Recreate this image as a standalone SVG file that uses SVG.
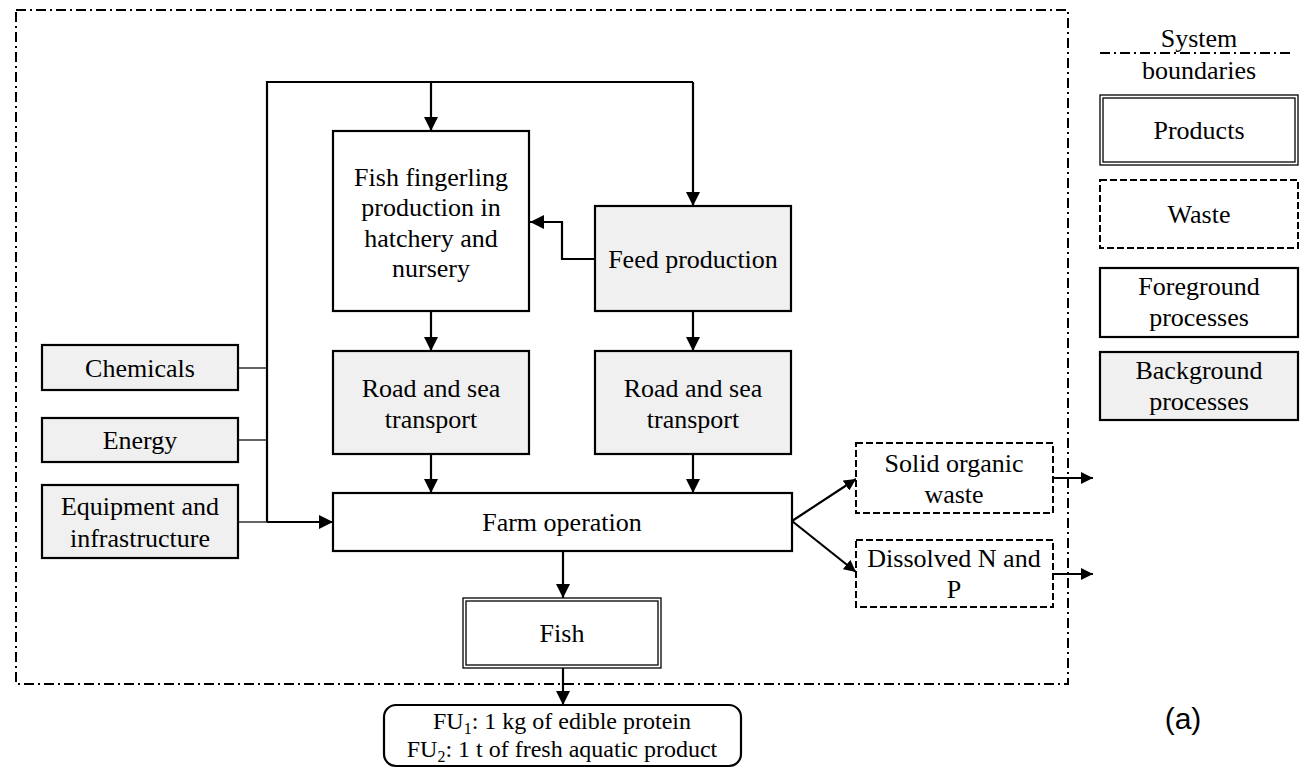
<svg xmlns="http://www.w3.org/2000/svg" width="1304" height="784" viewBox="0 0 1304 784">
<defs>
<marker id="ah" viewBox="0 0 14 14" markerWidth="14" markerHeight="14" refX="14" refY="7" orient="auto" markerUnits="userSpaceOnUse">
<path d="M0,0 L14,7 L0,14 z" fill="#000"/>
</marker>
<marker id="ahs" viewBox="0 0 12 12" markerWidth="12" markerHeight="12" refX="12" refY="6" orient="auto" markerUnits="userSpaceOnUse">
<path d="M0,0 L12,6 L0,12 z" fill="#000"/>
</marker>
</defs>
<style>
text{font-family:"Liberation Serif","Times New Roman",serif;font-size:26px;fill:#000;text-anchor:middle}
.fg{fill:#fff;stroke:#000;stroke-width:2.2}
.bg{fill:#f0f0f0;stroke:#000;stroke-width:2.2}
.ws{fill:#fff;stroke:#000;stroke-width:2;stroke-dasharray:7,3}
.dbl{fill:none;stroke:#000;stroke-width:1.3}
.bd{fill:none;stroke:#000;stroke-width:2;stroke-dasharray:10,4,2,4}
.c{fill:none;stroke:#000;stroke-width:2.2}
.t{fill:none;stroke:#333;stroke-width:1.3}
</style>
<rect width="1304" height="784" fill="#fff"/>
<rect id="boundary" class="bd" x="16" y="10" width="1052" height="674"/>

<g id="connectors">
<path class="t" d="M238,368 H267 M238,440 H267 M238,522 H267"/>
<path class="c" d="M267,522 V82 H693"/>
<path class="c" d="M267,522 H333" marker-end="url(#ah)"/>
<path class="c" d="M431,82 V131" marker-end="url(#ah)"/>
<path class="c" d="M693,82 V206" marker-end="url(#ah)"/>
<path class="c" d="M595,259 H562 V222 H530" marker-end="url(#ah)"/>
<path class="c" d="M431,311 V351" marker-end="url(#ah)"/>
<path class="c" d="M693,311 V351" marker-end="url(#ah)"/>
<path class="c" d="M431,454 V493" marker-end="url(#ah)"/>
<path class="c" d="M693,454 V493" marker-end="url(#ah)"/>
<path class="c" d="M563,551 V598" marker-end="url(#ah)"/>
<path class="c" d="M792,521 L856,479" marker-end="url(#ahs)"/>
<path class="c" d="M792,521 L856,572" marker-end="url(#ahs)"/>
<path class="c" d="M1053,478 H1093" marker-end="url(#ahs)"/>
<path class="c" d="M1053,574 H1093" marker-end="url(#ahs)"/>
<path class="c" d="M563,668 V705" marker-end="url(#ah)"/>
</g>

<g id="fingerling">
<rect class="fg" x="333" y="131" width="196" height="180"/>
<text x="431" y="186">Fish fingerling</text>
<text x="431" y="216">production in</text>
<text x="431" y="247">hatchery and</text>
<text x="431" y="277">nursery</text>
</g>
<g id="feed">
<rect class="bg" x="595" y="206" width="196" height="105"/>
<text x="693" y="268">Feed production</text>
</g>
<g id="transport1">
<rect class="bg" x="333" y="351" width="196" height="103"/>
<text x="431" y="397">Road and sea</text>
<text x="431" y="428">transport</text>
</g>
<g id="transport2">
<rect class="bg" x="595" y="351" width="196" height="103"/>
<text x="693" y="397">Road and sea</text>
<text x="693" y="428">transport</text>
</g>
<g id="chemicals">
<rect class="bg" x="42" y="345" width="196" height="45"/>
<text x="140" y="377">Chemicals</text>
</g>
<g id="energy">
<rect class="bg" x="42" y="418" width="196" height="44"/>
<text x="140" y="449">Energy</text>
</g>
<g id="equipment">
<rect class="bg" x="42" y="485" width="196" height="73"/>
<text x="140" y="515">Equipment and</text>
<text x="140" y="547">infrastructure</text>
</g>
<g id="farm">
<rect class="fg" x="333" y="493" width="459" height="58"/>
<text x="562" y="531">Farm operation</text>
</g>
<g id="fish">
<rect class="dbl" x="463" y="598" width="198" height="70"/>
<rect class="dbl" x="466" y="601" width="192" height="64"/>
<text x="562" y="642">Fish</text>
</g>
<g id="solidwaste">
<rect class="ws" x="856" y="443" width="197" height="70"/>
<text x="954" y="472">Solid organic</text>
<text x="954" y="503">waste</text>
</g>
<g id="dissolved">
<rect class="ws" x="856" y="540" width="197" height="67"/>
<text x="954" y="567">Dissolved N and</text>
<text x="954" y="598">P</text>
</g>
<g id="fu">
<rect fill="#fff" stroke="#000" stroke-width="2.2" x="384" y="705" width="357" height="61" rx="12" ry="12"/>
<text x="562" y="729" style="font-size:24px">FU<tspan dy="5" style="font-size:16px">1</tspan><tspan dy="-5">: 1 kg of edible protein</tspan></text>
<text x="562" y="757" style="font-size:24px">FU<tspan dy="5" style="font-size:16px">2</tspan><tspan dy="-5">: 1 t of fresh aquatic product</tspan></text>
</g>

<g id="legend">
<text x="1199" y="47">System</text>
<line class="bd" x1="1100" y1="53" x2="1290" y2="53"/>
<text x="1199" y="79">boundaries</text>
<rect class="dbl" x="1100" y="95" width="198" height="70"/>
<rect class="dbl" x="1103" y="98" width="192" height="64"/>
<text x="1199" y="139">Products</text>
<rect class="ws" x="1100" y="180" width="198" height="68"/>
<text x="1199" y="223">Waste</text>
<rect class="fg" x="1100" y="268" width="198" height="69"/>
<text x="1199" y="295">Foreground</text>
<text x="1199" y="326">processes</text>
<rect class="bg" x="1100" y="352" width="198" height="68"/>
<text x="1199" y="379">Background</text>
<text x="1199" y="410">processes</text>
</g>
<text x="1183" y="729" style="font-family:'Liberation Sans',Arial,sans-serif;font-size:30px">(a)</text>
</svg>
